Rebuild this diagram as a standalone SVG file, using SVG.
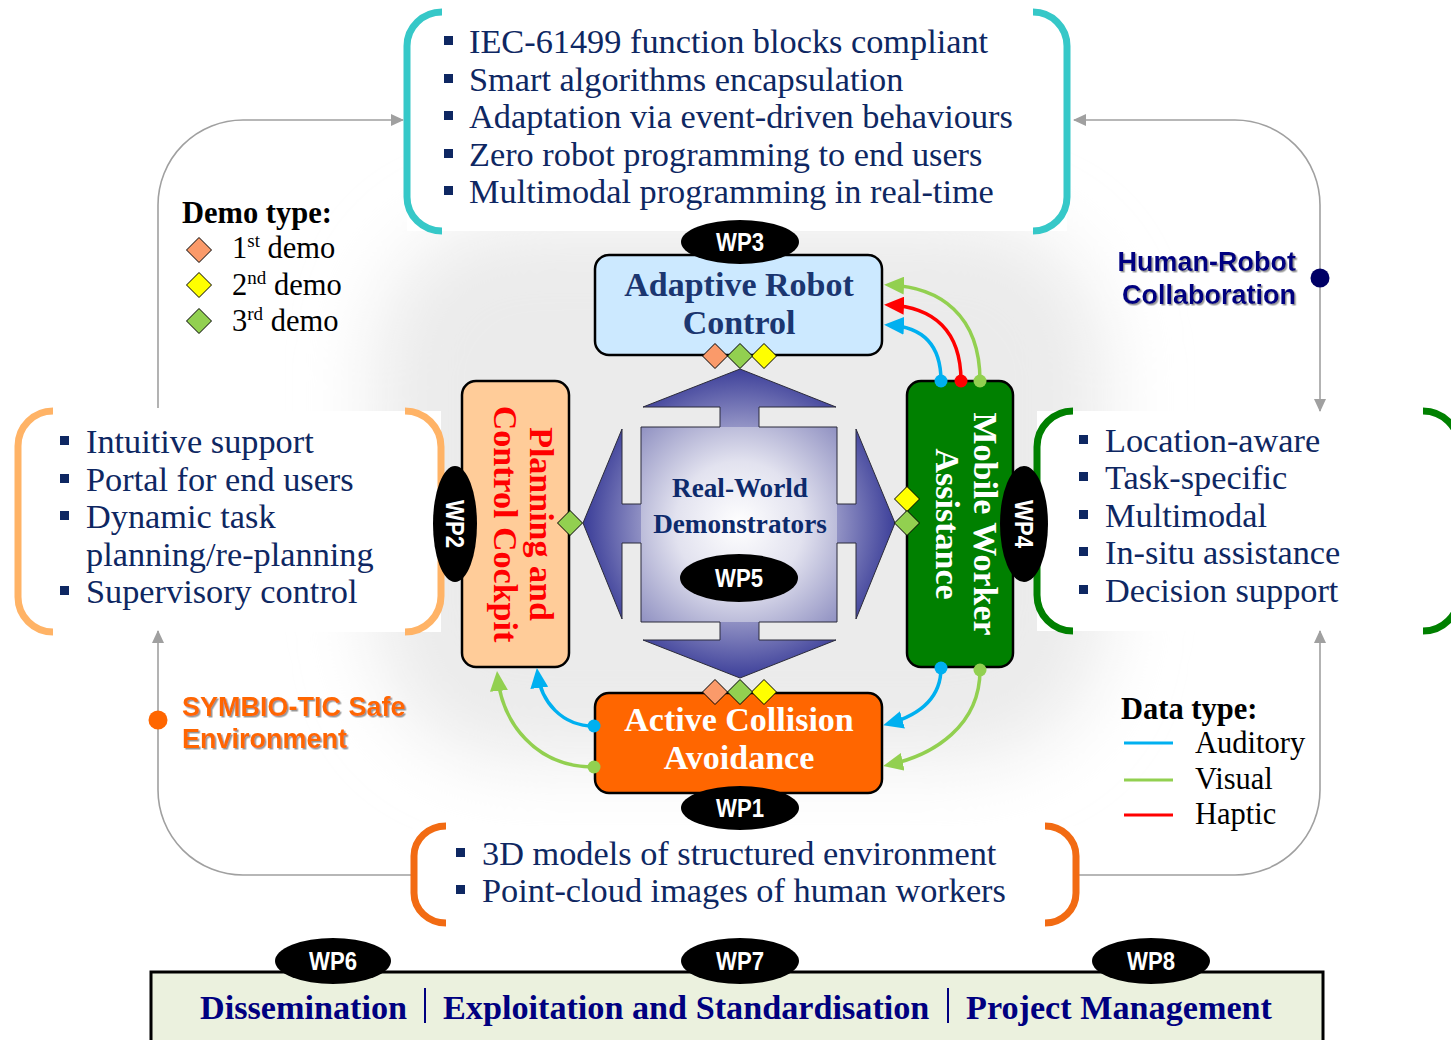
<svg xmlns="http://www.w3.org/2000/svg" width="1451" height="1040" viewBox="0 0 1451 1040">
  <defs>
    <style>
      .bt { font-family: "Liberation Serif", "Times New Roman", serif; font-size: 34.3px; fill: #0e2762; }
      .bul { fill: #0e2762; }
      .leg { font-family: "Liberation Serif", "Times New Roman", serif; font-size: 30.5px; fill: #000; }
      .legh { font-family: "Liberation Serif", "Times New Roman", serif; font-size: 30.5px; font-weight: bold; fill: #000; }
      .box { stroke: #000; stroke-width: 2.5; }
      .bx { font-family: "Liberation Serif", "Times New Roman", serif; font-size: 34px; font-weight: bold; text-anchor: middle; }
      .rw { font-size: 27.2px; fill: #0d2a6c; }
      .wp { fill: #000; }
      .wpt { font-family: "Liberation Sans", Arial, sans-serif; font-size: 25px; font-weight: bold; fill: #fff; text-anchor: middle; }
      .loop { fill: none; stroke: #a0a0a0; stroke-width: 1.6; }
      .flow { fill: none; stroke-width: 3.5; }
      .brk { fill: none; stroke-width: 7; }
      .dia { stroke: #000; stroke-width: 1; }
      .bar { font-family: "Liberation Serif", "Times New Roman", serif; font-size: 34.2px; font-weight: bold; fill: #000080; }
      .lbl { font-family: "Liberation Sans", Arial, sans-serif; font-size: 27px; font-weight: bold; }
    </style>
    <filter id="soft" x="-30%" y="-30%" width="160%" height="160%">
      <feGaussianBlur stdDeviation="38"/>
    </filter>
    <filter id="shadow" x="-10%" y="-20%" width="120%" height="150%">
      <feDropShadow dx="1.5" dy="1.5" stdDeviation="0.6" flood-color="#8c8c8c" flood-opacity="0.9"/>
    </filter>
    <radialGradient id="crossFill" gradientUnits="userSpaceOnUse" cx="740" cy="523" r="165">
      <stop offset="0" stop-color="#ffffff"/>
      <stop offset="0.45" stop-color="#b4b4d6"/>
      <stop offset="1" stop-color="#2e3192"/>
    </radialGradient>
    <radialGradient id="squareFill" cx="0.5" cy="0.5" r="0.72">
      <stop offset="0" stop-color="#ffffff"/>
      <stop offset="0.45" stop-color="#e2e2ef"/>
      <stop offset="1" stop-color="#8d8ec0"/>
    </radialGradient>
    <path id="dia" d="M0,-12.5 L12.5,0 L0,12.5 L-12.5,0 Z"/>
    <marker id="ga" viewBox="0 0 13 12" refX="12" refY="6" markerWidth="13" markerHeight="12" markerUnits="userSpaceOnUse" orient="auto">
      <path d="M0,0 L13,6 L0,12 Z" fill="#a0a0a0"/>
    </marker>
    <marker id="aB" viewBox="0 0 20 18" refX="15" refY="9" markerWidth="20" markerHeight="18" markerUnits="userSpaceOnUse" orient="auto">
      <path d="M0,0 L20,9 L0,18 Z" fill="#00b0f0"/>
    </marker>
    <marker id="aG" viewBox="0 0 20 18" refX="15" refY="9" markerWidth="20" markerHeight="18" markerUnits="userSpaceOnUse" orient="auto">
      <path d="M0,0 L20,9 L0,18 Z" fill="#92d050"/>
    </marker>
    <marker id="aR" viewBox="0 0 20 18" refX="15" refY="9" markerWidth="20" markerHeight="18" markerUnits="userSpaceOnUse" orient="auto">
      <path d="M0,0 L20,9 L0,18 Z" fill="#ff0000"/>
    </marker>
  </defs>

  <!-- page background and soft central glow -->
  <rect x="0" y="0" width="1451" height="1040" fill="#ffffff"/>
  <rect x="375" y="220" width="730" height="540" rx="140" fill="#ebebeb" filter="url(#soft)"/>

  <!-- white panels behind the bracketed lists -->
  <rect x="407" y="12" width="660" height="219" fill="#fff"/>
  <rect x="18" y="411" width="423" height="221" fill="#fff"/>
  <rect x="1037" y="411" width="414" height="220" fill="#fff"/>
  <rect x="413" y="826" width="663" height="97" fill="#fff"/>

  <!-- connectors -->
  <g id="connectors">
    <g id="loop">
      <path class="loop" d="M158,408 V205 A85,85 0 0 1 243,120 H403" marker-end="url(#ga)"/>
      <path class="loop" d="M1320,278 V205 A85,85 0 0 0 1235,120 H1074" marker-end="url(#ga)"/>
      <path class="loop" d="M1320,278 V411" marker-end="url(#ga)"/>
      <path class="loop" d="M158,720 V631" marker-end="url(#ga)"/>
      <path class="loop" d="M158,720 V790 A85,85 0 0 0 243,875 H412"/>
      <path class="loop" d="M1077,875 H1235 A85,85 0 0 0 1320,790 V631" marker-end="url(#ga)"/>
    </g>
  </g>

  <!-- WP3 list: control features -->
  <g id="list-wp3">
    <path class="brk" stroke="#36c8c8" d="M442,12 A35,34 0 0 0 407,46 V197 A35,34 0 0 0 442,231"/>
    <path class="brk" stroke="#36c8c8" d="M1033,12 A34,34 0 0 1 1067,46 V197 A34,34 0 0 1 1033,231"/>
    <rect class="bul" x="444" y="36" width="9" height="9"/>
    <rect class="bul" x="444" y="74" width="9" height="9"/>
    <rect class="bul" x="444" y="111" width="9" height="9"/>
    <rect class="bul" x="444" y="149" width="9" height="9"/>
    <rect class="bul" x="444" y="186" width="9" height="9"/>
    <text class="bt" x="469" y="53">IEC-61499 function blocks compliant</text>
    <text class="bt" x="469" y="91">Smart algorithms encapsulation</text>
    <text class="bt" x="469" y="128">Adaptation via event-driven behaviours</text>
    <text class="bt" x="469" y="166">Zero robot programming to end users</text>
    <text class="bt" x="469" y="203">Multimodal programming in real-time</text>
  </g>

  <!-- WP2 list: cockpit features -->
  <g id="list-wp2">
    <path class="brk" stroke="#ffb366" d="M53,411 A35,35 0 0 0 18,446 V597 A35,35 0 0 0 53,632"/>
    <path class="brk" stroke="#ffb366" d="M405,411 A36,36 0 0 1 441,447 V596 A36,36 0 0 1 405,632"/>
    <rect class="bul" x="60" y="436" width="9" height="9"/>
    <rect class="bul" x="60" y="474" width="9" height="9"/>
    <rect class="bul" x="60" y="511" width="9" height="9"/>
    <rect class="bul" x="60" y="586" width="9" height="9"/>
    <text class="bt" x="86" y="453">Intuitive support</text>
    <text class="bt" x="86" y="491">Portal for end users</text>
    <text class="bt" x="86" y="528">Dynamic task</text>
    <text class="bt" x="86" y="566">planning/re-planning</text>
    <text class="bt" x="86" y="603">Supervisory control</text>
  </g>

  <!-- WP4 list: assistance features -->
  <g id="list-wp4">
    <path class="brk" stroke="#008000" d="M1073,411 A36,36 0 0 0 1037,447 V595 A36,36 0 0 0 1073,631"/>
    <path class="brk" stroke="#008000" d="M1423,411 A36,36 0 0 1 1459,447 V595 A36,36 0 0 1 1423,631"/>
    <rect class="bul" x="1079" y="435" width="9" height="9"/>
    <rect class="bul" x="1079" y="472" width="9" height="9"/>
    <rect class="bul" x="1079" y="510" width="9" height="9"/>
    <rect class="bul" x="1079" y="547" width="9" height="9"/>
    <rect class="bul" x="1079" y="585" width="9" height="9"/>
    <text class="bt" x="1105" y="452">Location-aware</text>
    <text class="bt" x="1105" y="489">Task-specific</text>
    <text class="bt" x="1105" y="527">Multimodal</text>
    <text class="bt" x="1105" y="564">In-situ assistance</text>
    <text class="bt" x="1105" y="602">Decision support</text>
  </g>

  <!-- WP1 list: environment models -->
  <g id="list-wp1">
    <path class="brk" stroke="#f26b13" d="M446,826 A32,30 0 0 0 414,856 V893 A32,30 0 0 0 446,923"/>
    <path class="brk" stroke="#f26b13" d="M1045,826 A31,30 0 0 1 1076,856 V893 A31,30 0 0 1 1045,923"/>
    <rect class="bul" x="456" y="848" width="9" height="9"/>
    <rect class="bul" x="456" y="885" width="9" height="9"/>
    <text class="bt" x="482" y="865">3D models of structured environment</text>
    <text class="bt" x="482" y="902">Point-cloud images of human workers</text>
  </g>

  <!-- labels on the outer loop -->
  <g id="hrc-label">
    <text class="lbl" fill="#000080" text-anchor="end" filter="url(#shadow)"><tspan x="1296" y="271">Human-Robot</tspan><tspan x="1296" y="304">Collaboration</tspan></text>
    <circle cx="1320" cy="278" r="9.5" fill="#000066"/>
  </g>
  <g id="safe-label">
    <text class="lbl" fill="#ff6600" filter="url(#shadow)"><tspan x="182" y="716">SYMBIO-TIC Safe</tspan><tspan x="182" y="748">Environment</tspan></text>
    <circle cx="158" cy="720" r="9.5" fill="#ff6600"/>
  </g>

  <!-- demo type legend -->
  <g id="legend-demo">
    <text class="legh" x="182" y="223">Demo type:</text>
    <use href="#dia" x="199" y="250" class="dia" fill="#fa9a6a"/>
    <use href="#dia" x="199" y="285" class="dia" fill="#ffff00"/>
    <use href="#dia" x="199" y="321" class="dia" fill="#92d050"/>
    <text class="leg" x="232" y="258">1<tspan font-size="19" dy="-11">st</tspan><tspan dy="11"> demo</tspan></text>
    <text class="leg" x="232" y="294.5">2<tspan font-size="19" dy="-11">nd</tspan><tspan dy="11"> demo</tspan></text>
    <text class="leg" x="232" y="330.5">3<tspan font-size="19" dy="-11">rd</tspan><tspan dy="11"> demo</tspan></text>
  </g>

  <!-- data type legend -->
  <g id="legend-data">
    <text class="legh" x="1121" y="719">Data type:</text>
    <line x1="1124" y1="743" x2="1173" y2="743" stroke="#00b0f0" stroke-width="3"/>
    <line x1="1124" y1="780" x2="1173" y2="780" stroke="#92d050" stroke-width="3"/>
    <line x1="1124" y1="815" x2="1173" y2="815" stroke="#ff0000" stroke-width="3"/>
    <text class="leg" x="1195" y="753">Auditory</text>
    <text class="leg" x="1195" y="789">Visual</text>
    <text class="leg" x="1195" y="824">Haptic</text>
  </g>

  <!-- WP5: central demonstrators cross -->
  <g id="wp5">
    <path fill="url(#crossFill)" d="M740,369 L836,407 L759,407 L759,427 L837,427 L837,504 L856,504 L856,429 L895,523 L856,619 L856,543 L837,543 L837,622 L759,622 L759,640 L836,640 L740,678 L643,640 L720,640 L720,622 L641,622 L641,543 L622,543 L622,619 L583,523 L622,429 L622,504 L641,504 L641,427 L720,427 L720,407 L643,407 Z"/>
    <rect x="641" y="427" width="196" height="195" fill="url(#squareFill)"/>
    <path fill="none" stroke="#2b2b3a" stroke-width="1" d="M740,369 L836,407 L759,407 L759,427 L837,427 L837,504 L856,504 L856,429 L895,523 L856,619 L856,543 L837,543 L837,622 L759,622 L759,640 L836,640 L740,678 L643,640 L720,640 L720,622 L641,622 L641,543 L622,543 L622,619 L583,523 L622,429 L622,504 L641,504 L641,427 L720,427 L720,407 L643,407 Z"/>
    <text class="bx rw" x="740" y="497">Real-World</text>
    <text class="bx rw" x="740" y="533">Demonstrators</text>
    <ellipse class="wp" cx="739" cy="578" rx="59" ry="24"/>
    <text class="wpt" x="739" y="587" textLength="48" lengthAdjust="spacingAndGlyphs">WP5</text>
  </g>

  <!-- WP3: adaptive robot control -->
  <g id="wp3">
    <rect class="box" x="595" y="255" width="287" height="100" rx="14" fill="#cce9ff"/>
    <text class="bx" fill="#1b3670" x="739" y="296">Adaptive Robot</text>
    <text class="bx" fill="#1b3670" x="739" y="334">Control</text>
  </g>

  <!-- WP2: planning and control cockpit -->
  <g id="wp2">
    <rect class="box" x="462" y="381" width="107" height="286" rx="14" fill="#ffcc99"/>
    <text class="bx" fill="#ff0000" transform="translate(515.5 524) rotate(90)"><tspan x="0" y="-14">Planning and</tspan><tspan x="0" y="22">Control Cockpit</tspan></text>
  </g>

  <!-- WP4: mobile worker assistance -->
  <g id="wp4">
    <rect class="box" x="907" y="381" width="106" height="286" rx="14" fill="#008000"/>
    <text class="bx" fill="#ffffff" transform="translate(960 524) rotate(90)"><tspan x="0" y="-14">Mobile Worker</tspan><tspan x="0" y="24">Assistance</tspan></text>
  </g>

  <!-- WP1: active collision avoidance -->
  <g id="wp1">
    <rect class="box" x="595" y="693" width="287" height="100" rx="14" fill="#ff6600"/>
    <text class="bx" fill="#ffffff" x="739" y="731">Active Collision</text>
    <text class="bx" fill="#ffffff" x="739" y="769">Avoidance</text>
  </g>

  <!-- data flows between work packages -->
  <g id="flows">
    <path class="flow" stroke="#00b0f0" d="M941,381 C941,346 924,327 889,325" marker-end="url(#aB)"/>
    <path class="flow" stroke="#ff0000" d="M961,381 C961,331 934,307 889,305" marker-end="url(#aR)"/>
    <path class="flow" stroke="#92d050" d="M980,381 C980,315 940,287 889,285" marker-end="url(#aG)"/>
    <circle cx="941" cy="381" r="6.5" fill="#00b0f0"/>
    <circle cx="961" cy="381" r="6.5" fill="#ff0000"/>
    <circle cx="980" cy="381" r="6.5" fill="#92d050"/>

    <path class="flow" stroke="#00b0f0" d="M594,726 C562,726 541,702 537.5,673" marker-end="url(#aB)"/>
    <path class="flow" stroke="#92d050" d="M594,767 C535,767 502,722 497.5,676" marker-end="url(#aG)"/>
    <circle cx="594" cy="726" r="6.5" fill="#00b0f0"/>
    <circle cx="594" cy="767" r="6.5" fill="#92d050"/>

    <path class="flow" stroke="#00b0f0" d="M941,668 C941,698 920,715 888,724" marker-end="url(#aB)"/>
    <path class="flow" stroke="#92d050" d="M980,670 C980,725 935,755 888,765" marker-end="url(#aG)"/>
    <circle cx="941" cy="668" r="6.5" fill="#00b0f0"/>
    <circle cx="980" cy="670" r="6.5" fill="#92d050"/>
  </g>

  <!-- demo markers on the boxes -->
  <g id="demo-markers">
    <use href="#dia" x="715" y="356" class="dia" fill="#fa9a6a"/>
    <use href="#dia" x="764" y="356" class="dia" fill="#ffff00"/>
    <use href="#dia" x="740" y="356" class="dia" fill="#92d050"/>
    <use href="#dia" x="715" y="692" class="dia" fill="#fa9a6a"/>
    <use href="#dia" x="764" y="692" class="dia" fill="#ffff00"/>
    <use href="#dia" x="740" y="692" class="dia" fill="#92d050"/>
    <use href="#dia" x="570" y="523" class="dia" fill="#92d050"/>
    <use href="#dia" x="907" y="499" class="dia" fill="#ffff00"/>
    <use href="#dia" x="907" y="523" class="dia" fill="#92d050"/>
  </g>

  <!-- work package badges -->
  <g id="wp3-badge">
    <ellipse class="wp" cx="740" cy="242" rx="59" ry="22"/>
    <text class="wpt" x="740" y="251" textLength="48" lengthAdjust="spacingAndGlyphs">WP3</text>
  </g>
  <g id="wp1-badge">
    <ellipse class="wp" cx="740" cy="808" rx="59" ry="22"/>
    <text class="wpt" x="740" y="817" textLength="48" lengthAdjust="spacingAndGlyphs">WP1</text>
  </g>
  <g id="wp2-badge">
    <ellipse class="wp" cx="455" cy="524" rx="22" ry="58"/>
    <text class="wpt" transform="translate(455 524) rotate(90)" x="0" y="9" textLength="48" lengthAdjust="spacingAndGlyphs">WP2</text>
  </g>
  <g id="wp4-badge">
    <ellipse class="wp" cx="1024" cy="524" rx="24" ry="58"/>
    <text class="wpt" transform="translate(1024 524) rotate(90)" x="0" y="9" textLength="48" lengthAdjust="spacingAndGlyphs">WP4</text>
  </g>

  <!-- management bar: WP6, WP7, WP8 -->
  <g id="management">
    <rect x="151" y="972" width="1172" height="80" fill="#ebf1de" stroke="#000" stroke-width="3"/>
    <text class="bar" x="200" y="1019">Dissemination</text>
    <line x1="425" y1="988" x2="425" y2="1023" stroke="#000080" stroke-width="2"/>
    <text class="bar" x="443" y="1019">Exploitation and Standardisation</text>
    <line x1="948" y1="988" x2="948" y2="1023" stroke="#000080" stroke-width="2"/>
    <text class="bar" x="966" y="1019">Project Management</text>
  </g>
  <g id="wp6-badge">
    <ellipse class="wp" cx="333" cy="961" rx="58" ry="23"/>
    <text class="wpt" x="333" y="970" textLength="48" lengthAdjust="spacingAndGlyphs">WP6</text>
  </g>
  <g id="wp7-badge">
    <ellipse class="wp" cx="740" cy="961" rx="59" ry="23"/>
    <text class="wpt" x="740" y="970" textLength="48" lengthAdjust="spacingAndGlyphs">WP7</text>
  </g>
  <g id="wp8-badge">
    <ellipse class="wp" cx="1151" cy="961" rx="59" ry="23"/>
    <text class="wpt" x="1151" y="970" textLength="48" lengthAdjust="spacingAndGlyphs">WP8</text>
  </g>
</svg>
